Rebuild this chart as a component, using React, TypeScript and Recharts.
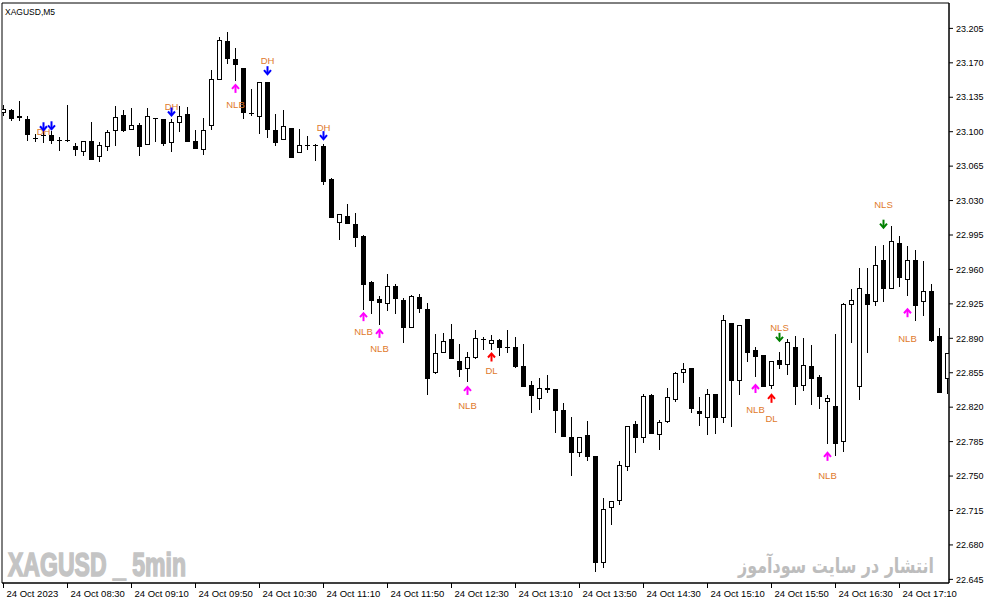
import React from 'react';
import {
  ComposedChart,
  XAxis,
  YAxis,
  Bar,
  Scatter,
  ReferenceArea,
} from 'recharts';

// XAGUSD M5, 24 Oct 2023 from 07:50, one bar every 5 minutes
const opens = [
  23.120, 23.122, 23.116, 23.113, 23.094, 23.097, 23.097, 23.092, 23.092, 23.085,
  23.080, 23.091, 23.075, 23.085, 23.102, 23.117, 23.103, 23.107, 23.087, 23.114,
  23.113, 23.090, 23.110, 23.118, 23.091, 23.082, 23.107, 23.154, 23.192, 23.174,
  23.165, 23.119, 23.116, 23.150, 23.102, 23.093, 23.104, 23.079, 23.086, 23.086,
  23.085, 23.052, 23.008, 23.014, 23.006, 22.994, 22.947, 22.930, 22.926, 22.943,
  22.929, 22.902, 22.932, 22.920, 22.856, 22.876, 22.889, 22.867, 22.860, 22.871,
  22.889, 22.885, 22.888, 22.881, 22.881, 22.862, 22.843, 22.829, 22.840, 22.838,
  22.817, 22.790, 22.774, 22.792, 22.770, 22.663, 22.719, 22.726, 22.760, 22.803,
  22.790, 22.832, 22.793, 22.806, 22.828, 22.856, 22.860, 22.816, 22.810, 22.833,
  22.810, 22.906, 22.848, 22.910, 22.878, 22.873, 22.843, 22.868, 22.864, 22.881,
  22.843, 22.862, 22.851, 22.826, 22.821, 22.786, 22.925, 22.842, 22.935, 22.928,
  22.970, 22.941, 22.987, 22.950, 22.970, 22.928, 22.938, 22.892, 22.850,
];
const highs = [
  23.127, 23.123, 23.131, 23.116, 23.098, 23.104, 23.101, 23.095, 23.127, 23.089,
  23.091, 23.110, 23.090, 23.102, 23.126, 23.122, 23.124, 23.109, 23.124, 23.114,
  23.113, 23.113, 23.126, 23.125, 23.102, 23.114, 23.163, 23.196, 23.201, 23.185,
  23.165, 23.143, 23.150, 23.150, 23.118, 23.122, 23.104, 23.103, 23.096, 23.087,
  23.087, 23.053, 23.016, 23.027, 23.017, 22.995, 22.948, 22.933, 22.955, 22.945,
  22.931, 22.934, 22.935, 22.926, 22.894, 22.895, 22.905, 22.884, 22.876, 22.898,
  22.891, 22.893, 22.889, 22.898, 22.891, 22.884, 22.847, 22.850, 22.853, 22.838,
  22.824, 22.810, 22.790, 22.806, 22.770, 22.728, 22.725, 22.765, 22.801, 22.806,
  22.833, 22.833, 22.807, 22.839, 22.856, 22.865, 22.860, 22.830, 22.838, 22.833,
  22.914, 22.906, 22.904, 22.910, 22.881, 22.873, 22.867, 22.876, 22.889, 22.892,
  22.890, 22.883, 22.853, 22.832, 22.894, 22.926, 22.940, 22.961, 22.961, 22.984,
  22.985, 23.004, 22.994, 22.984, 22.980, 22.969, 22.945, 22.900, 22.875,
];
const lows = [
  23.117, 23.112, 23.112, 23.092, 23.091, 23.090, 23.089, 23.081, 23.091, 23.076,
  23.076, 23.072, 23.070, 23.081, 23.086, 23.101, 23.103, 23.076, 23.087, 23.091,
  23.086, 23.080, 23.101, 23.091, 23.083, 23.077, 23.103, 23.154, 23.170, 23.153,
  23.114, 23.117, 23.099, 23.095, 23.086, 23.093, 23.074, 23.079, 23.082, 23.071,
  23.047, 23.013, 22.991, 23.007, 22.984, 22.920, 22.916, 22.905, 22.919, 22.916,
  22.886, 22.901, 22.917, 22.833, 22.855, 22.876, 22.870, 22.852, 22.847, 22.870,
  22.879, 22.879, 22.873, 22.876, 22.861, 22.842, 22.815, 22.818, 22.835, 22.795,
  22.791, 22.751, 22.770, 22.766, 22.654, 22.658, 22.701, 22.722, 22.756, 22.774,
  22.785, 22.794, 22.777, 22.805, 22.826, 22.846, 22.815, 22.802, 22.793, 22.794,
  22.805, 22.801, 22.833, 22.867, 22.852, 22.842, 22.840, 22.860, 22.854, 22.823,
  22.837, 22.823, 22.819, 22.784, 22.771, 22.775, 22.886, 22.828, 22.876, 22.924,
  22.928, 22.941, 22.943, 22.934, 22.909, 22.914, 22.887, 22.835, 22.834,
];
const closes = [
  23.123, 23.114, 23.115, 23.098, 23.094, 23.097, 23.092, 23.092, 23.092, 23.082,
  23.091, 23.072, 23.086, 23.100, 23.115, 23.102, 23.107, 23.085, 23.116, 23.114,
  23.089, 23.110, 23.116, 23.091, 23.083, 23.102, 23.154, 23.193, 23.175, 23.169,
  23.120, 23.119, 23.150, 23.103, 23.090, 23.106, 23.074, 23.086, 23.086, 23.086,
  23.050, 23.013, 23.016, 23.007, 22.993, 22.945, 22.929, 22.927, 22.943, 22.931,
  22.902, 22.933, 22.921, 22.850, 22.875, 22.887, 22.870, 22.859, 22.871, 22.890,
  22.889, 22.888, 22.881, 22.881, 22.862, 22.842, 22.832, 22.840, 22.838, 22.817,
  22.791, 22.774, 22.790, 22.770, 22.663, 22.717, 22.725, 22.761, 22.801, 22.790,
  22.831, 22.794, 22.805, 22.830, 22.855, 22.859, 22.819, 22.814, 22.833, 22.810,
  22.909, 22.848, 22.904, 22.876, 22.872, 22.842, 22.867, 22.864, 22.886, 22.842,
  22.863, 22.850, 22.831, 22.829, 22.784, 22.925, 22.929, 22.941, 22.925, 22.965,
  22.941, 22.989, 22.952, 22.970, 22.924, 22.938, 22.888, 22.835, 22.875,
];

const xTickIndex = [0, 8, 16, 24, 32, 40, 48, 56, 64, 72, 80, 88, 96, 104, 112];
const xTickLabels = [
  '24 Oct 2023', '24 Oct 08:30', '24 Oct 09:10', '24 Oct 09:50', '24 Oct 10:30',
  '24 Oct 11:10', '24 Oct 11:50', '24 Oct 12:30', '24 Oct 13:10', '24 Oct 13:50',
  '24 Oct 14:30', '24 Oct 15:10', '24 Oct 15:50', '24 Oct 16:30', '24 Oct 17:10',
];
const yTicks = [
  23.205, 23.17, 23.135, 23.1, 23.065, 23.03, 22.995, 22.96, 22.925,
  22.89, 22.855, 22.82, 22.785, 22.75, 22.715, 22.68, 22.645,
];

// indicator arrows: kind, bar index, price
const arrowKinds = ['DH', 'DH', 'DH', 'NLB', 'DH', 'DH', 'NLB', 'NLB', 'NLB', 'DL', 'NLB', 'DL', 'NLS', 'NLB', 'NLS', 'NLB'];
const arrowBars = [5, 6, 21, 29, 33, 40, 45, 47, 58, 61, 94, 96, 97, 103, 110, 113];
const arrowPrices = [23.105, 23.106, 23.120, 23.144, 23.162, 23.096, 22.912, 22.895, 22.837, 22.871, 22.839, 22.829, 22.891, 22.770, 23.006, 22.916];

// indicator labels: text, bar index, price
const labelTexts = ['DH', 'DH', 'NLB', 'DH', 'DH', 'NLB', 'NLB', 'NLB', 'DL', 'NLB', 'DL', 'NLS', 'NLB', 'NLS', 'NLB'];
const labelBars = [5, 21, 29, 33, 40, 45, 47, 58, 61, 94, 96, 97, 103, 110, 113];
const labelPrices = [23.100, 23.126, 23.128, 23.172, 23.104, 22.897, 22.880, 22.822, 22.857, 22.818, 22.809, 22.901, 22.751, 23.026, 22.890];

const X_DOMAIN: [number, number] = [-0.1875, 118.1875];
const Y_DOMAIN: [number, number] = [22.6413, 23.2308];

const arrowColor: Record<string, string> = {
  DH: '#0000ff',
  NLB: '#ff00ff',
  DL: '#ff0000',
  NLS: '#008000',
};

const candles = opens.map((open, i) => ({
  i,
  open,
  high: highs[i],
  low: lows[i],
  close: closes[i],
  range: [lows[i], highs[i]],
}));

const arrowPoints = arrowBars.map((i, k) => ({ i, price: arrowPrices[k], kind: arrowKinds[k] }));
const labelPoints = labelBars.map((i, k) => ({ i, price: labelPrices[k], kind: labelTexts[k] }));

const CandleShape = (props: any) => {
  const { x, y, width, height, payload } = props;
  if (!payload) return null;
  const { open, close, high, low } = payload;
  const ratio = height / (high - low);
  const yOf = (v: number) => y + (high - v) * ratio;
  const n = Math.floor(x + width / 2);
  const cx = n + 0.5;
  const yH = Math.round(yOf(high));
  const yL = Math.round(yOf(low));
  const yO = Math.round(yOf(open));
  const yC = Math.round(yOf(close));
  const top = Math.min(yO, yC);
  const bottom = Math.max(yO, yC);
  const bull = close > open;

  return (
    <g>
      <line x1={cx} y1={yH} x2={cx} y2={yL + 1} stroke="#000" strokeWidth={1} />
      {bottom - top < 1 ? (
        <line x1={n - 2} y1={top + 0.5} x2={n + 3} y2={top + 0.5} stroke="#000" strokeWidth={1} />
      ) : (
        <rect
          x={n - 1.5}
          y={top + 0.5}
          width={4}
          height={bottom - top}
          fill={bull ? '#fff' : '#000'}
          stroke="#000"
          strokeWidth={1}
        />
      )}
    </g>
  );
};

const ArrowShape = (props: any) => {
  const { cx, cy, payload } = props;
  if (cx == null || cy == null) return null;
  const color = arrowColor[payload.kind];
  const up = payload.kind === 'NLB' || payload.kind === 'DL';
  const s = up ? 1 : -1;
  return (
    <g stroke={color} strokeWidth={2} fill="none">
      <line x1={cx} y1={cy + 4.5 * s} x2={cx} y2={cy - 3 * s} />
      <polyline points={`${cx - 3.5},${cy + 0.5 * s} ${cx},${cy - 3.5 * s} ${cx + 3.5},${cy + 0.5 * s}`} />
    </g>
  );
};

const LabelShape = (props: any) => {
  const { cx, cy, payload } = props;
  if (cx == null || cy == null) return null;
  return (
    <text x={cx} y={cy + 3.5} textAnchor="middle" fontSize={9.5} fill="#e07a2c" fontFamily="'Liberation Sans', Arial, sans-serif">
      {payload.kind}
    </text>
  );
};

const XTick = (props: any) => {
  const { x, y, payload } = props;
  const k = xTickIndex.indexOf(payload.value);
  return (
    <text x={x + 3} y={y + 7} textAnchor="start" fontSize={9.5} fill="#000" fontFamily="'Liberation Sans', Arial, sans-serif">
      {xTickLabels[k]}
    </text>
  );
};

export default function App() {
  return (
    <div style={{ position: 'absolute', left: 0, top: 0, width: 991, height: 605, background: '#fff' }}>
      <ComposedChart
        width={991}
        height={605}
        data={candles}
        margin={{ top: 3, right: 0, left: 2, bottom: 0 }}
        style={{ fontFamily: "'Liberation Sans', Arial, sans-serif" }}
      >
        <XAxis
          dataKey="i"
          type="number"
          domain={X_DOMAIN}
          allowDataOverflow
          ticks={xTickIndex}
          interval={0}
          height={22}
          tickSize={5}
          tickMargin={2}
          axisLine={{ stroke: '#000' }}
          tickLine={{ stroke: '#000' }}
          tick={<XTick />}
        />
        <YAxis
          orientation="right"
          type="number"
          domain={Y_DOMAIN}
          allowDataOverflow
          ticks={yTicks}
          interval={0}
          width={42}
          tickSize={4}
          tickMargin={3}
          axisLine={{ stroke: '#000' }}
          tickLine={{ stroke: '#000' }}
          tick={{ fontSize: 9, fill: '#000' }}
          tickFormatter={(v: number) => v.toFixed(3)}
        />
        <Bar dataKey="range" barSize={6} shape={<CandleShape />} isAnimationActive={false} />
        <Scatter data={labelPoints} dataKey="price" shape={<LabelShape />} isAnimationActive={false} />
        <Scatter data={arrowPoints} dataKey="price" shape={<ArrowShape />} isAnimationActive={false} />
        <ReferenceArea
          x1={X_DOMAIN[0]}
          x2={X_DOMAIN[1]}
          y1={Y_DOMAIN[0]}
          y2={Y_DOMAIN[1]}
          fill="none"
          stroke="#000"
          strokeWidth={1}
          ifOverflow="visible"
        />
      </ComposedChart>
      <svg width={991} height={605} style={{ position: 'absolute', left: 0, top: 0, pointerEvents: 'none' }}>
        <text x={5} y={15} fontSize={8.5} fill="#000" fontFamily="'Liberation Sans', Arial, sans-serif">
          XAGUSD,M5
        </text>
        <text
          x={8}
          y={576}
          fontSize={34}
          fontWeight="bold"
          fill="#c4c4c4"
          stroke="#c4c4c4"
          strokeWidth={1.6}
          textLength={178}
          lengthAdjust="spacingAndGlyphs"
          fontFamily="'Liberation Sans', Arial, sans-serif"
        >
          XAGUSD _ 5min
        </text>
        <text
          x={836}
          y={573}
          fontSize={21}
          fontWeight="bold"
          fill="#bdbdbd"
          textAnchor="middle"
          textLength={196}
          lengthAdjust="spacingAndGlyphs"
          fontFamily="'DejaVu Sans', sans-serif"
        >
          انتشار در سایت سودآموز
        </text>
      </svg>
    </div>
  );
}
